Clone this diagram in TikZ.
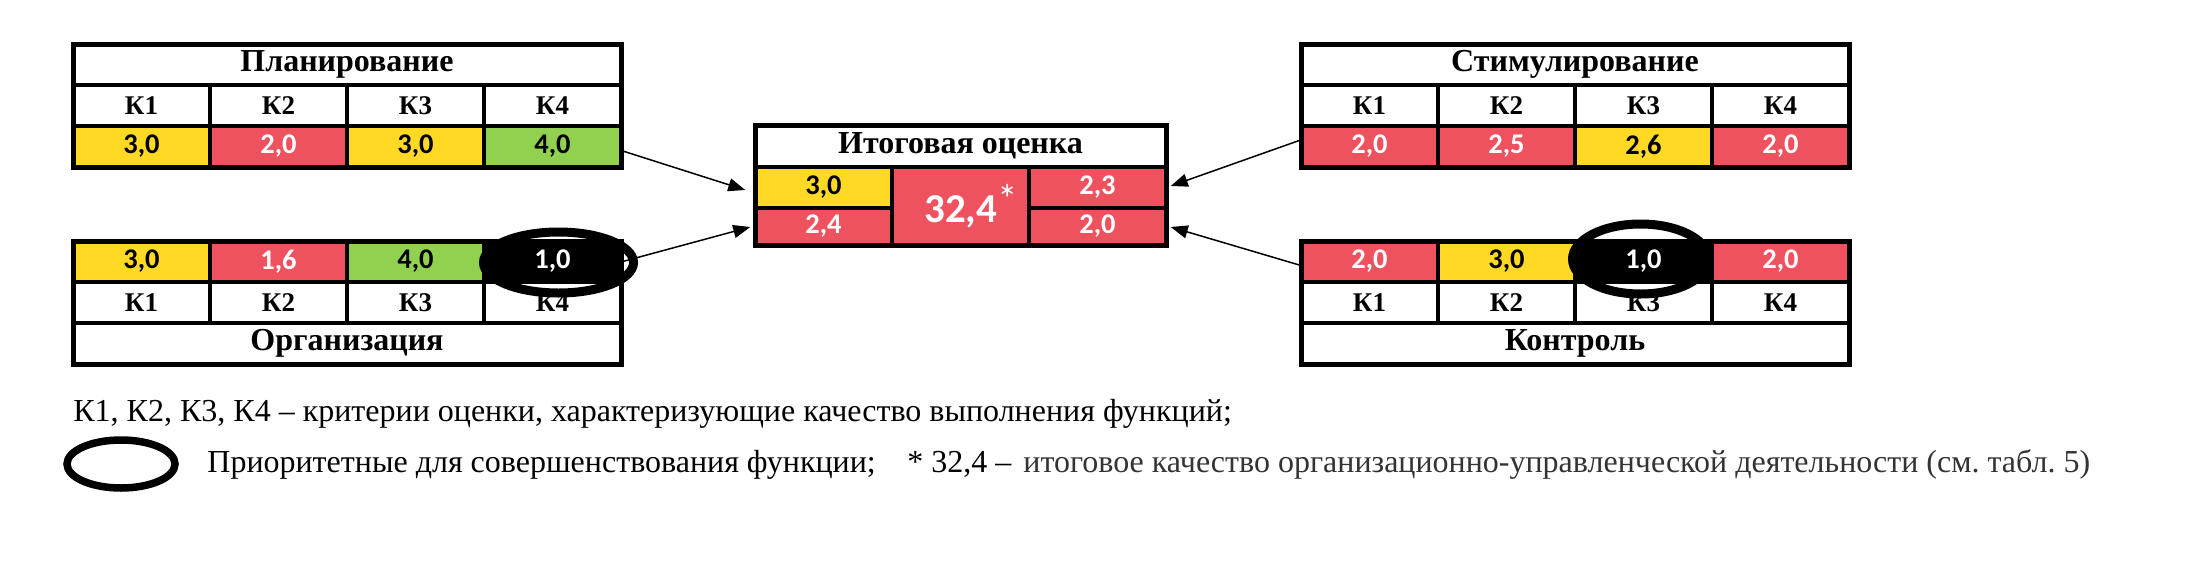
\documentclass[tikz,border=0pt]{standalone}
\usepackage{fontspec}
\setmainfont{Liberation Serif}
\newfontfamily\calib{Carlito}
\usetikzlibrary{arrows.meta}
\definecolor{cy}{RGB}{255,217,35}
\definecolor{cr}{RGB}{238,82,95}
\definecolor{cg}{RGB}{146,208,80}
\begin{document}
\begin{tikzpicture}[x=0.5pt,y=-0.5pt,
  grid/.style={draw=black, line width=1.75pt, inner sep=0pt, minimum width=68.5pt, minimum height=20.5pt},
  ttl/.style={grid, fill=white, minimum width=274pt, font=\fontsize{16}{16}\selectfont\bfseries},
  klab/.style={grid, fill=white, font=\fontsize{13.5}{13.5}\selectfont\bfseries},
  val/.style={grid, font=\calib\fontsize{14.25}{14.25}\selectfont\bfseries},
  vy/.style={val, fill=cy, text=black},
  vr/.style={val, fill=cr, text=white},
  vg/.style={val, fill=cg, text=black},
  vk/.style={val, fill=black, text=white},
  frame/.style={draw=black, line width=2.5pt},
  ring/.style={draw=black, line width=4.5pt},
  link/.style={draw=black, line width=0.75pt, -{Triangle[length=8.5pt, width=6.5pt]}},
  legend/.style={inner sep=0pt, anchor=base west, font=\fontsize{16}{16}\selectfont}
]
\useasboundingbox[fill=white] (0,0) rectangle (2194,584);

% Planning
\node[ttl] (pl-t) at (347,64.5) {Планирование};
\node[klab] (pl-k1) at (141.5,105.5) {К1};
\node[klab] (pl-k2) at (278.5,105.5) {К2};
\node[klab] (pl-k3) at (415.5,105.5) {К3};
\node[klab] (pl-k4) at (552.5,105.5) {К4};
\node[vy] (pl-v1) at (141.5,146.5) {3,0};
\node[vr] (pl-v2) at (278.5,146.5) {2,0};
\node[vy] (pl-v3) at (415.5,146.5) {3,0};
\node[vg] (pl-v4) at (552.5,146.5) {4,0};
\draw[frame] (73,44) rectangle (621,167);

% Organisation
\node[vy] (or-v1) at (141.5,261.5) {3,0};
\node[vr] (or-v2) at (278.5,261.5) {1,6};
\node[vg] (or-v3) at (415.5,261.5) {4,0};
\node[vk] (or-v4) at (552.5,261.5) {1,0};
\node[klab] (or-k1) at (141.5,302.5) {К1};
\node[klab] (or-k2) at (278.5,302.5) {К2};
\node[klab] (or-k3) at (415.5,302.5) {К3};
\node[klab] (or-k4) at (552.5,302.5) {К4};
\node[ttl] (or-t) at (347,343.5) {Организация};
\draw[frame] (73,241) rectangle (621,364);
\draw[ring] (558.5,262.5) ellipse [x radius=37.5pt, y radius=15.25pt];

% Stimulation
\node[ttl] (st-t) at (1575,64.5) {Стимулирование};
\node[klab] (st-k1) at (1369.5,105.5) {К1};
\node[klab] (st-k2) at (1506.5,105.5) {К2};
\node[klab] (st-k3) at (1643.5,105.5) {К3};
\node[klab] (st-k4) at (1780.5,105.5) {К4};
\node[vr] (st-v1) at (1369.5,146.5) {2,0};
\node[vr] (st-v2) at (1506.5,146.5) {2,5};
\node[vy] (st-v3) at (1643.5,146.5) {2,6};
\node[vr] (st-v4) at (1780.5,146.5) {2,0};
\draw[frame] (1301,44) rectangle (1849,167);

% Control
\node[vr] (ko-v1) at (1369.5,261.5) {2,0};
\node[vy] (ko-v2) at (1506.5,261.5) {3,0};
\node[vk] (ko-v3) at (1643.5,261.5) {1,0};
\node[vr] (ko-v4) at (1780.5,261.5) {2,0};
\node[klab] (ko-k1) at (1369.5,302.5) {К1};
\node[klab] (ko-k2) at (1506.5,302.5) {К2};
\node[klab] (ko-k3) at (1643.5,302.5) {К3};
\node[klab] (ko-k4) at (1780.5,302.5) {К4};
\node[ttl] (ko-t) at (1575,343.5) {Контроль};
\draw[frame] (1301,241) rectangle (1849,364);
\draw[ring] (1640.5,259) ellipse [x radius=34pt, y radius=17.5pt];

% Central
\node[ttl, minimum width=205.5pt, minimum height=21pt] (c-t) at (960.5,146) {Итоговая оценка};
\node[vy, minimum height=20.5pt] (c-a) at (823.5,187.5) {3,0};
\node[vr, minimum height=18.5pt] (c-b) at (823.5,226.5) {2,4};
\node[vr, minimum height=39pt] (c-m) at (960.5,206) {\hspace*{10.5pt}\fontsize{20.5}{20.5}\selectfont 32,4\raisebox{4.5pt}{\mdseries *}};
\node[vr, minimum height=20.5pt] (c-c) at (1097.5,187.5) {2,3};
\node[vr, minimum height=18.5pt] (c-d) at (1097.5,226.5) {2,0};
\draw[frame] (755,125) rectangle (1166,245);

% Connectors
\draw[link] ([yshift=-2.25pt]pl-v4.east) -- ([xshift=-4pt,yshift=-1.25pt]c-a.west);
\draw[link] (or-v4.east) -- ([xshift=-1.5pt,yshift=-0.25pt]c-b.west);
\draw[link] ([yshift=3pt]st-v1.west) -- ([xshift=1.5pt,yshift=0.75pt]c-c.east);
\draw[link] ([yshift=-1.75pt]ko-v1.west) -- ([xshift=1.5pt,yshift=-0.25pt]c-d.east);

% Legend
\node[legend] (lg1) at (73,421) {К1, К2, К3, К4 – критерии оценки, характеризующие качество выполнения функций;};
\draw[line width=3.75pt] (121,464) ellipse [x radius=27pt, y radius=12pt];
\node[legend] (lg2) at (207,472) {Приоритетные для совершенствования функции;};
\node[legend] (lg3) at (907,472) {* 32,4 –};
\node[legend, text=black!80] (lg4) at (1023,472) {итоговое качество организационно-управленческой деятельности (см.~табл.~5)};
\end{tikzpicture}
\end{document}
